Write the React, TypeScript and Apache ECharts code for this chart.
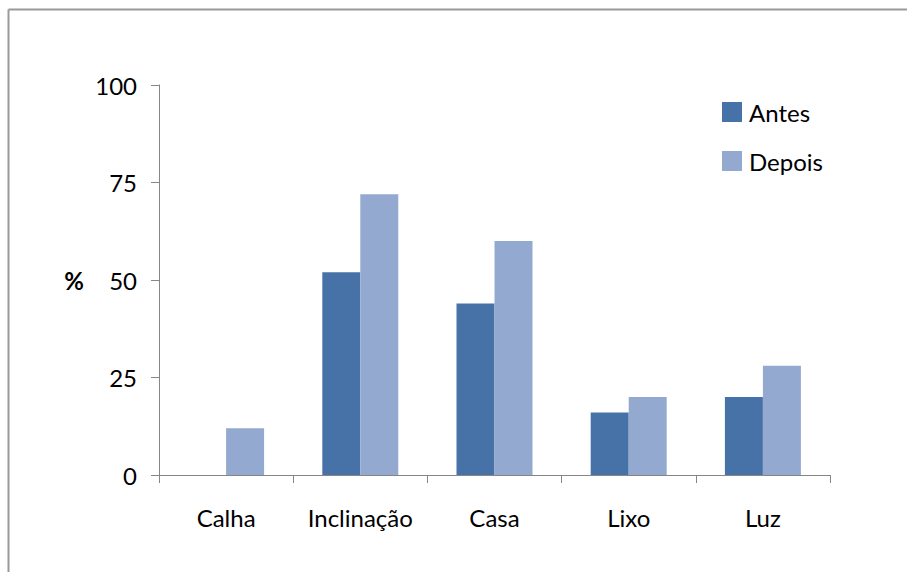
import React, { useEffect, useRef } from "react";
import * as echarts from "echarts";

const categories = ["Calha", "Inclinação", "Casa", "Lixo", "Luz"];
const antes = [0, 52, 44, 16, 20];
const depois = [12, 72, 60, 20, 28];
const yTicks = [0, 25, 50, 75, 100];

const FONT = "Lato";
const FS = 24;

export default function App() {
  const ref = useRef<HTMLDivElement>(null);
  useEffect(() => {
    const chart = echarts.init(ref.current!, null, { renderer: "svg" });
    chart.setOption({
      animation: false,
      backgroundColor: "#ffffff",
      textStyle: { fontFamily: FONT },
      grid: { left: 159, top: 85, right: 77, bottom: 97, containLabel: false },
      legend: {
        orient: "vertical",
        left: 717,
        top: 95,
        itemWidth: 20,
        itemHeight: 20,
        itemGap: 25,
        icon: "rect",
        textStyle: { fontSize: FS, color: "#000", fontFamily: FONT, padding: [0, 0, 0, 2] },
        data: ["Antes", "Depois"],
      },
      xAxis: {
        type: "category",
        data: categories,
        axisLine: { lineStyle: { color: "#868686", width: 1 } },
        axisTick: { show: true, length: 8, alignWithLabel: false, interval: 0, lineStyle: { color: "#868686" } },
        axisLabel: { fontSize: FS, color: "#000", margin: 30, interval: 0, hideOverlap: false, fontFamily: FONT },
      },
      yAxis: {
        type: "value",
        min: 0,
        max: 100,
        interval: 25,
        name: "%",
        nameLocation: "middle",
        nameRotate: 0,
        nameGap: 75,
        nameTextStyle: { fontSize: FS, fontWeight: "bold", color: "#000", fontFamily: FONT },
        axisLine: { show: true, lineStyle: { color: "#868686", width: 1 } },
        axisTick: { show: true, length: 8, lineStyle: { color: "#868686" } },
        axisLabel: {
          fontSize: FS,
          color: "#000",
          margin: 22,
          fontFamily: FONT,
          formatter: (v: number) => (yTicks.includes(v) ? String(v) : ""),
        },
        splitLine: { show: false },
      },
      series: [
        {
          name: "Antes",
          type: "bar",
          data: antes,
          barWidth: 38,
          barGap: "0%",
          itemStyle: { color: "#4672A8" },
        },
        {
          name: "Depois",
          type: "bar",
          data: depois,
          barWidth: 38,
          barGap: "0%",
          itemStyle: { color: "#94A9D0" },
        },
      ],
      graphic: [
        { type: "line", shape: { x1: 8.5, y1: 9.5, x2: 907, y2: 9.5 }, style: { stroke: "#999999", lineWidth: 2 } },
        { type: "line", shape: { x1: 8.5, y1: 9.5, x2: 8.5, y2: 572 }, style: { stroke: "#999999", lineWidth: 2 } },
      ],
    });
    return () => chart.dispose();
  }, []);
  return (
    <div
      ref={ref}
      style={{ position: "fixed", left: 0, top: 0, width: 907, height: 572 }}
    />
  );
}
